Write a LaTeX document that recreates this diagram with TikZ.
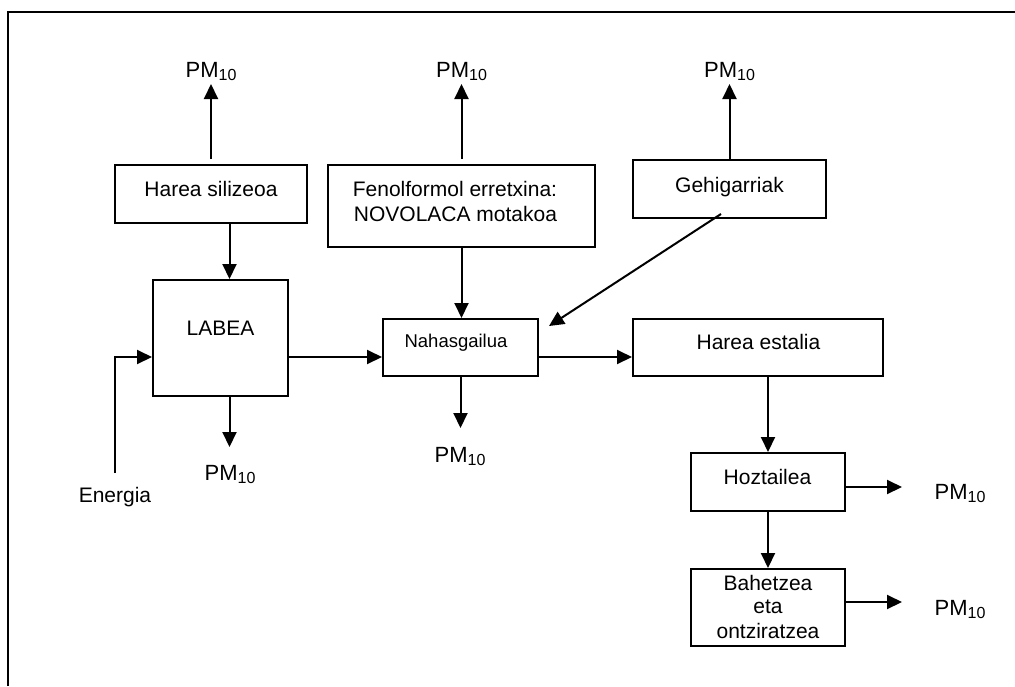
\documentclass[tikz,border=0pt]{standalone}
\usepackage{fontspec}
\setmainfont{Liberation Sans}
\usetikzlibrary{arrows.meta}
\newcommand\pmten{PM\raisebox{-3pt}{\fontsize{16}{16}\selectfont 10}}

\begin{document}
\begin{tikzpicture}[x=1pt,y=-1pt,line width=2pt,
  blok/.style={draw,rectangle,inner sep=0pt},
  lbl/.style={anchor=base,inner sep=0pt,font=\fontsize{21}{24.5}\selectfont},
  small/.style={anchor=base,inner sep=0pt,font=\fontsize{18.5}{22}\selectfont},
  pm/.style={anchor=base,inner sep=0pt,font=\fontsize{22}{26}\selectfont},
  arr/.style={-{Triangle[length=15pt,width=14pt]}}]
\useasboundingbox (0,0) rectangle (1015,686);

% frame (only the top and left edges lie on the page)
\draw (8,686) -- (8,12) -- (1015,12);

% process boxes
\node[blok,minimum width=192pt,minimum height=58pt]  (sil)     at (211,194)    {};
\node[blok,minimum width=135pt,minimum height=116pt] (labea)   at (220.5,338)  {};
\node[blok,minimum width=267pt,minimum height=82pt]  (fenol)   at (461.5,206)  {};
\node[blok,minimum width=193pt,minimum height=58pt]  (gehi)    at (729.5,189)  {};
\node[blok,minimum width=155pt,minimum height=57pt]  (nahas)   at (460.5,347.5){};
\node[blok,minimum width=250pt,minimum height=57pt]  (estalia) at (758,347.5)  {};
\node[blok,minimum width=154pt,minimum height=58pt]  (hozt)    at (768,482)    {};
\node[blok,minimum width=154pt,minimum height=77pt]  (bahe)    at (768,607.5)  {};

% box texts
\node[lbl] (silT)   at (211,196)   {Harea silizeoa};
\node[lbl] (labeaT) at (220.5,335) {LABEA};
\node[lbl] (fen1)   at (455,196)   {Fenolformol erretxina:};
\node[lbl] (fen2)   at (455.5,221) {NOVOLACA motakoa};
\node[lbl] (gehiT)  at (729.5,192) {Gehigarriak};
\node[small] (nahasT) at (456,347) {Nahasgailua};
\node[lbl] (estT)   at (758.5,349) {Harea estalia};
\node[lbl] (hoztT)  at (767.5,484) {Hoztailea};
\node[lbl] (bah1)   at (768,590)   {Bahetzea};
\node[lbl] (bah2)   at (768,613)   {eta};
\node[lbl] (bah3)   at (768,638)   {ontziratzea};
\node[lbl] (energia) at (115,502)  {Energia};

% emission labels
\node[pm] (pm1) at (211,77)    {\pmten};
\node[pm] (pm2) at (461.5,77)  {\pmten};
\node[pm] (pm3) at (729.5,77)  {\pmten};
\node[pm] (pm4) at (230,480)   {\pmten};
\node[pm] (pm5) at (460,462)   {\pmten};
\node[pm] (pm6) at (960,499)   {\pmten};
\node[pm] (pm7) at (960,615)   {\pmten};

% arrow end points
\coordinate (t1) at (211,84);
\coordinate (t2) at (461.5,84);
\coordinate (t3) at (729.5,84);
\coordinate (t4) at (229.5,447);
\coordinate (t5) at (460.5,428);
\coordinate (t6) at (902,487);
\coordinate (t7) at (902,602);
\coordinate (xa) at (229.5,0);
\coordinate (ya) at (0,357);
\coordinate (e0) at (115,473);

% emissions upward
\draw[arr] ([yshift=5pt]sil.north) -- (t1);
\draw[arr] ([yshift=5pt]fenol.north) -- (t2);
\draw[arr] (gehi.north) -- (t3);

% main flow
\draw[arr] (sil.south -| xa) -- (labea.north -| xa);
\draw[arr] (labea.south -| xa) -- (t4);
\draw[arr] (e0) |- (labea.west |- ya);
\draw[arr] (labea.east |- ya) -- (nahas.west |- ya);
\draw[arr] (fenol.south) -- (fenol.south |- nahas.north);
\draw[arr] ([shift={(-8.5,-5)}]gehi.south) -- ([shift={(10,8)}]nahas.north east);
\draw[arr] (nahas.south) -- (t5);
\draw[arr] (nahas.east |- ya) -- (estalia.west |- ya);
\draw[arr] (estalia.south -| hozt.north) -- (hozt.north);
\draw[arr] ([yshift=-5pt]hozt.east) -- (t6);
\draw[arr] (hozt.south) -- (bahe.north);
\draw[arr] ([yshift=5.5pt]bahe.east) -- (t7);
\end{tikzpicture}
\end{document}
